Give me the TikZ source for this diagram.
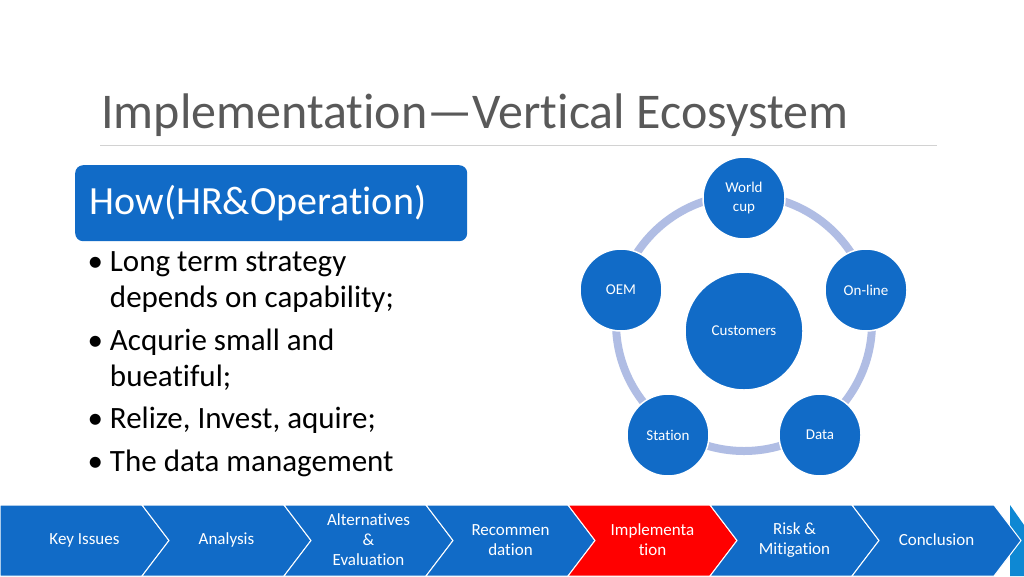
\documentclass[tikz,border=0pt]{standalone}
\usepackage{fontspec}
\setmainfont[Ligatures=NoCommon]{Carlito}
\usetikzlibrary{positioning}
\definecolor{mainblue}{RGB}{17,107,199}
\definecolor{ringblue}{RGB}{176,189,228}
\definecolor{titlegray}{RGB}{89,89,89}
\tikzset{
  ball/.style={circle,fill=mainblue,draw=white,line width=1.5pt,text=white,align=center,font=\fontsize{15}{19}\selectfont},
  chev/.style={fill=mainblue,draw=white,line width=1pt},
  chevtext/.style={text=white,align=center,font=\fontsize{17}{20}\selectfont},
  bullet/.style={anchor=west,font=\fontsize{31}{36}\selectfont,align=left}
}
\begin{document}
\begin{tikzpicture}[x=1pt,y=-1pt]
		\newcommand*{\chevW}{142}
		\newcommand*{\tipW}{27}
		\useasboundingbox[fill=white] (0,0) rectangle (1024,576);

		% title
		\node[anchor=base west,text=titlegray,font=\fontsize{50}{50}\selectfont,inner sep=0] (title) at (101,128) {Implementation—Vertical Ecosystem};
		\draw[gray!35,line width=1pt] (100,145) -- (937,145);

		% header box and bullets
		\node[rounded corners=8pt,fill=mainblue,minimum width=392,minimum height=76,anchor=north west,inner sep=0] (how) at (75,165) {};
		\node[anchor=west,text=white,font=\fontsize{40}{40}\selectfont] (howtext) at (86,203) {How(HR\&Operation)};
		\node[bullet] (b1) at (84,282) {•~Long term strategy\\\phantom{•~}depends on capability;};
		\node[bullet] (b2) at (84,360) {•~Acqurie small and\\\phantom{•~}bueatiful;};
		\node[bullet] (b3) at (84,420) {•~Relize, Invest, aquire;};
		\node[bullet] (b4) at (84,463) {•~The data management};

		% ecosystem
		\coordinate (ctr) at (744,323);
		\draw[ringblue,line width=8pt] (ctr) circle[radius=128];
		\node[ball,minimum size=118] (cust) at (744,331) {\raisebox{1pt}{Customers}};
		\node[ball,minimum size=82] (world) at (744,198) {World\\cup};
		\node[ball,minimum size=82] (online) at (866,290) {On-line};
		\node[ball,minimum size=82] (data) at (820,435) {Data};
		\node[ball,minimum size=82] (station) at (668,435) {Station};
		\node[ball,minimum size=82] (oem) at (621,290) {OEM};

		% process bar
		\fill[cyan!70!blue] (1010,505) -- (1024,525) -- (1024,576) -- (1010,576) -- cycle;
		\foreach \lbl [count=\i from 0] in {Key Issues,Analysis,Alternatives\\\&\\Evaluation,Recommen\\dation,Implementa\\tion,Risk \&\\Mitigation,Conclusion}{
			\pgfmathsetmacro{\xa}{\i*\chevW}
			\pgfmathsetmacro{\xb}{\xa+\chevW}
			\ifnum\i=4 \def\chevfill{red}\else\def\chevfill{mainblue}\fi
			\draw[chev,fill=\chevfill] (\xa,505) -- (\xb,505) -- (\xb+\tipW,540.5) -- (\xb,576) -- (\xa,576)
				\ifnum\i>0 -- (\xa+\tipW,540.5) \fi -- cycle;
			\node[chevtext] (step\i) at (\xa+\chevW/2+\tipW/2,540) {\lbl};
		}
\end{tikzpicture}
\end{document}
